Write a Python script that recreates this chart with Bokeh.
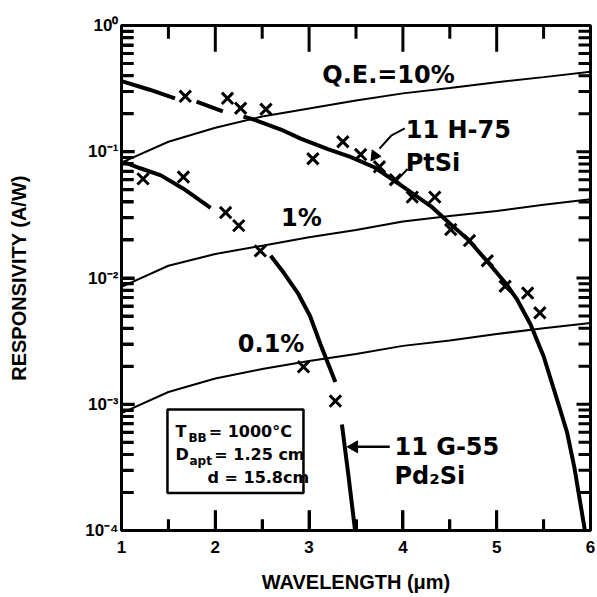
import numpy as np
from bokeh.plotting import figure
from bokeh.models import Range1d, CustomJSTickFormatter, FixedTicker
from bokeh.core.properties import value
from bokeh.embed import file_html
from bokeh.resources import INLINE

# ---- data ----
qe_x = [1, 1.5, 2, 2.5, 3, 3.5, 4, 4.5, 5, 5.5, 6]
qe10_y = [0.082, 0.12, 0.155, 0.19, 0.22, 0.255, 0.29, 0.32, 0.355, 0.39, 0.43]
qe1_y = [0.0085, 0.0125, 0.0155, 0.018, 0.021, 0.024, 0.028, 0.031, 0.034, 0.038, 0.042]
qe01_y = [0.00085, 0.00125, 0.0016, 0.0019, 0.0022, 0.0025, 0.0029, 0.0032, 0.0036, 0.004, 0.0044]

# 11H-75 PtSi fitted curve (NaN = break in the drawn line)
ptsi_curve_x = [1.0, 1.3, 1.57, np.nan, 1.8, 2.08, np.nan, 2.3, 2.41, 2.7, 2.91, 3.2, 3.44,
                3.7, 4.0, 4.3, 4.5, 4.7, 4.9, 5.1, 5.22, 5.36, 5.5, 5.65, 5.75, 5.83, 5.94]
ptsi_curve_y = [0.363, 0.31, 0.265, np.nan, 0.25, 0.209, np.nan, 0.19, 0.18, 0.15, 0.127, 0.105, 0.091,
                0.075, 0.053, 0.037, 0.027, 0.020, 0.0135, 0.009, 0.0067, 0.0043, 0.0024, 0.00105,
                0.0006, 0.00031, 0.0001]
ptsi_x = [1.68, 2.13, 2.27, 2.54, 3.04, 3.36, 3.55, 3.75, 3.92, 4.10, 4.34, 4.51, 4.71, 4.90, 5.09, 5.33, 5.46]
ptsi_y = [0.275, 0.265, 0.221, 0.217, 0.088, 0.12, 0.095, 0.076, 0.06, 0.0437, 0.0437, 0.0242,
          0.0198, 0.0137, 0.0086, 0.0076, 0.0053]

# 11G-55 Pd2Si fitted curve
pdsi_curve_x = [1.02, 1.2, 1.42, 1.66, 1.95, np.nan, 2.59, 2.73, 2.88, 3.01, 3.12, 3.28,
                np.nan, 3.35, 3.42, 3.49]
pdsi_curve_y = [0.083, 0.074, 0.065, 0.051, 0.036, np.nan, 0.015, 0.011, 0.0076, 0.005, 0.003, 0.0015,
                np.nan, 0.00069, 0.00027, 0.0001]
pdsi_x = [1.23, 1.66, 2.11, 2.25, 2.48, 2.94, 3.28]
pdsi_y = [0.061, 0.063, 0.033, 0.026, 0.0164, 0.00198, 0.00106]

x_ticks = [1, 2, 3, 4, 5, 6]
x_minor = [1.5, 2.5, 3.5, 4.5, 5.5]
y_ticks = [1e-4, 1e-3, 1e-2, 1e-1, 1.0]
y_minor = [k * d for d in y_ticks[:-1] for k in range(2, 10)]

X0, X1, Y0, Y1 = 1.0, 6.0, 1e-4, 1.0
FRAME_W, FRAME_H = 469, 500          # approximate frame size in pixels
DX = (X1 - X0) / FRAME_W             # data units per pixel along x
DLY = np.log10(Y1 / Y0) / FRAME_H    # decades per pixel along y

LAB = "Liberation Sans"
ANN = value("DejaVu Sans")

p = figure(width=595, height=595, x_range=Range1d(X0, X1), y_range=Range1d(Y0, Y1),
           y_axis_type="log", output_backend="svg", toolbar_location=None,
           min_border_left=121, min_border_top=25, min_border_right=5, min_border_bottom=0)
p.grid.visible = False
p.outline_line_color = "black"
p.outline_line_width = 3
p.background_fill_color = "white"
p.border_fill_color = "white"

fmt = CustomJSTickFormatter(code="""
const e = Math.round(Math.log10(tick));
const sup = {'-':'\u207b','0':'\u2070','1':'\u00b9','2':'\u00b2','3':'\u00b3','4':'\u2074'};
return '10' + String(e).split('').map(c => sup[c]).join('');
""")

xa = p.xaxis[0]
xa.ticker = FixedTicker(ticks=x_ticks, minor_ticks=x_minor)
xa.axis_label = "WAVELENGTH (\u03bcm)"
ya = p.yaxis[0]
ya.ticker = FixedTicker(ticks=y_ticks, minor_ticks=y_minor)
ya.formatter = fmt
ya.axis_label = "RESPONSIVITY (A/W)"

for ax in (xa, ya):
    ax.axis_line_width = 3
    ax.axis_line_color = "black"
    ax.major_tick_out = 0
    ax.minor_tick_out = 0
    ax.major_tick_line_width = 3
    ax.minor_tick_line_width = 3
    ax.major_tick_line_color = "black"
    ax.minor_tick_line_color = "black"
    ax.major_label_text_font = LAB
    ax.major_label_text_font_style = "bold"
    ax.major_label_text_font_size = "17px"
    ax.major_label_text_color = "black"
    ax.axis_label_text_font = LAB
    ax.axis_label_text_font_style = "bold"
    ax.axis_label_text_font_size = "20px"
    ax.axis_label_text_color = "black"
xa.major_tick_in = 20
xa.minor_tick_in = 11
ya.major_tick_in = 13
ya.minor_tick_in = 12
xa.major_label_standoff = 10
xa.axis_label_standoff = 15
ya.major_label_standoff = 3
ya.axis_label_standoff = 52

# inward tick marks on all four sides, drawn at the tick positions as one multi-line
tick_xs, tick_ys = [], []
for xs, length, edge, sign in ((x_ticks, 20, Y0, 1), (x_minor, 11, Y0, 1),
                               (x_ticks, 26, Y1, -1), (x_minor, 13, Y1, -1)):
    for xv in xs:
        tick_xs.append([float(xv), float(xv)])
        tick_ys.append([edge, edge * 10 ** (sign * DLY * length)])
for ys, length, edge, sign in ((y_ticks, 13, X0, 1), (y_minor, 12, X0, 1),
                               (y_ticks, 14, X1, -1), (y_minor, 12, X1, -1)):
    for yv in ys:
        tick_xs.append([edge, edge + sign * DX * length])
        tick_ys.append([float(yv), float(yv)])
p.multi_line(xs=tick_xs, ys=tick_ys, line_color="black", line_width=3)

# quantum-efficiency lines
for ys in (qe10_y, qe1_y, qe01_y):
    p.line(qe_x, ys, line_color="black", line_width=2)

# fitted curves
p.line(ptsi_curve_x, ptsi_curve_y, line_color="black", line_width=4)
p.line(pdsi_curve_x, pdsi_curve_y, line_color="black", line_width=4)

# measured points
p.scatter(ptsi_x, ptsi_y, marker="x", size=16, line_color="black", line_width=3)
p.scatter(pdsi_x, pdsi_y, marker="x", size=16, line_color="black", line_width=3)

# labels
def txt(x, y, s, size="24px", font=ANN, align="left", yoff=0, style="bold"):
    p.text(x=[x], y=[y], text=[s], text_font=font, text_font_size=size,
           text_font_style=style, text_align=align, text_baseline="middle",
           text_color="black", y_offset=yoff)

txt(3.14, 0.405, "Q.E.=10%")
txt(2.70, 0.030, "1%")
txt(2.24, 0.0030, "0.1%")
txt(4.03, 0.15, "11 H-75")
txt(4.03, 0.082, "PtSi")
txt(3.91, 0.00046, "11 G-55")
txt(3.91, 0.00027, "Pd\u2082Si")

# leaders with arrow heads
p.line([4.02, 3.88, 3.75], [0.153, 0.135, 0.106], line_color="black", line_width=2)
p.scatter([3.70], [0.093], marker="triangle", size=11, angle=2.51,
          fill_color="black", line_color="black")
p.line([4.05, 3.92], [0.073, 0.058], line_color="black", line_width=2)
p.line([3.86, 3.50], [0.00046, 0.00046], line_color="black", line_width=2.5)
p.scatter([3.48], [0.00046], marker="triangle", size=12, angle=1.5708,
          fill_color="black", line_color="black")

# condition box
p.quad(left=[1.49], right=[2.94], bottom=[0.000198], top=[0.00091],
       fill_color="white", line_color="black", line_width=2.5)
txt(1.576, 0.000608, "T", size="16px")
txt(1.714, 0.000608, "BB", size="12px", yoff=6)
txt(1.93, 0.000608, "= 1000\u00b0C", size="16px")
txt(1.576, 0.000398, "D", size="16px")
txt(1.725, 0.000398, "apt", size="12px", yoff=6)
txt(1.99, 0.000398, "= 1.25 cm", size="16px")
txt(1.917, 0.000265, "d = 15.8cm", size="16px")

open("out.html", "w").write(file_html(p, INLINE))
